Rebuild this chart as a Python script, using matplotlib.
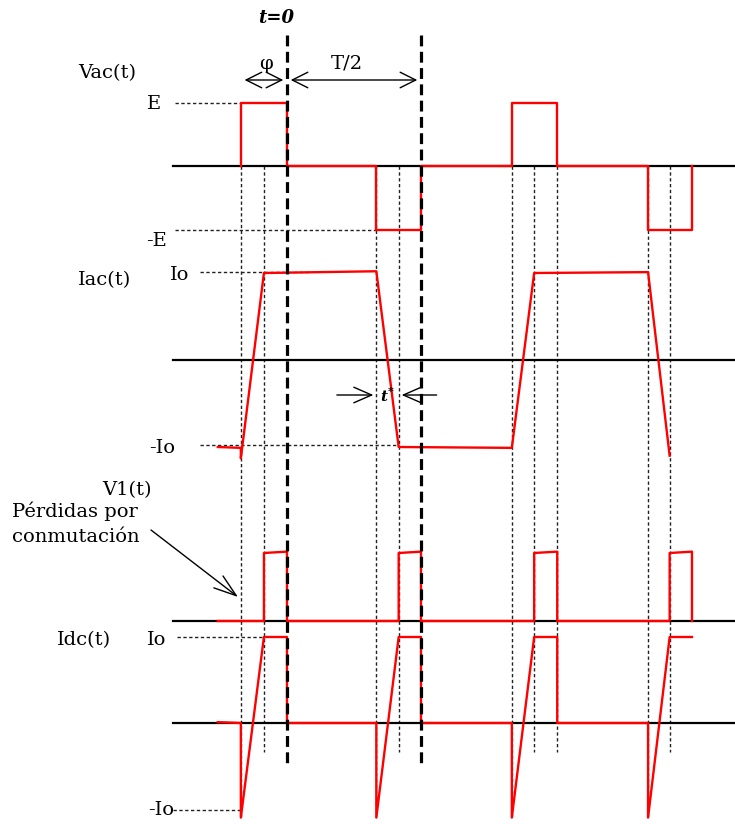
import numpy as np
import matplotlib.pyplot as plt

# angulo electrico en grados (t=0 -> flanco de bajada de Vac, T/2 = 180)
t_vac = [-62, -62, 0, 0, 120, 120, 180, 180, 302, 302, 363, 363, 485, 485, 544, 544]
vac = [0, 1, 1, 0, 0, -1, -1, 0, 0, 1, 1, 0, 0, -1, -1, 0]

t_iac = [-93, -62, -62, -31, 120, 150, 302, 332, 485, 514]
iac = [-1, -1.01, -1.13, 1, 1.02, -1, -1.01, 1, 1.01, -1.1]

t_v1 = [-93, -31, -31, 0, 0, 150, 150, 180, 180, 332, 332, 363, 363, 514, 514, 544, 544]
v1 = [0, 0, 1, 1.02, 0, 0, 1, 1.02, 0, 0, 1, 1.02, 0, 0, 1, 1.02, 0]

t_idc = [-93, -62, -62, -31, 0, 0, 120, 120, 150, 180, 180, 302, 302, 332, 363, 363, 485, 485, 514, 544]
idc = [0.01, 0, -1.1, 1, 1, 0, 0, -1.1, 1, 1, 0, 0, -1.1, 1, 1, 0, 0, -1.1, 1, 1]

t_conm = [-62, -31, 120, 150, 302, 332, 363, 485, 514]   # lineas finas
t_spike = [-62, 120, 302, 485]
t_ref = [0, 180]                                           # t=0 y T/2
phi = -62
tc = [120, 150]                                            # t*

W, H = 735, 824
fig = plt.figure(figsize=(W / 100, H / 100), dpi=100)
ax = fig.add_axes([0, 0, 1, 1])
k = 180 / 134
ax.set_xlim(-287 * k, (W - 287) * k)
ax.set_ylim(H, 0)
ax.axis('off')

rows = {'vac': (166, 63.5), 'iac': (360, 87), 'v1': (621, 68), 'idc': (723, 86)}


def yy(row, lvl):
    base, amp = rows[row]
    return base - np.asarray(lvl, dtype=float) * amp


def px(x, y):
    return x / W, 1 - y / H


red = '#ff0000'
thin = dict(color='#222222', lw=1.0, dashes=(2.4, 1.8))
x_left = (173 - 287) * k
x_right = (W - 287) * k

# ejes de cada señal
for r in rows:
    ax.plot([x_left, x_right], [rows[r][0]] * 2, color='black', lw=1.6, zorder=2)

# lineas verticales finas
for t in t_conm:
    ax.plot([t, t], [166, 818 if t in t_spike else 752], zorder=1, **thin)

# lineas de referencia horizontales
ax.plot([(175 - 287) * k, t_vac[0]], [yy('vac', 1)] * 2, zorder=1, **thin)
ax.plot([(175 - 287) * k, tc[0]], [yy('vac', -1)] * 2, zorder=1, **thin)
ax.plot([(200 - 287) * k, 30], [yy('iac', 1) - 1] * 2, zorder=1, **thin)
ax.plot([(200 - 287) * k, tc[1]], [yy('iac', -1) - 2] * 2, zorder=1, **thin)
ax.plot([(177 - 287) * k, -31], [yy('idc', 1)] * 2, zorder=1, **thin)
ax.plot([(173 - 287) * k, -62], [yy('idc', -1) + 1] * 2, zorder=1, **thin)

# formas de onda
ax.plot(t_vac, yy('vac', vac), color=red, lw=1.7, zorder=3)
ax.plot(t_iac, yy('iac', iac), color=red, lw=1.7, zorder=3)
ax.plot(t_v1, yy('v1', v1), color=red, lw=1.7, zorder=3)
ax.plot(t_idc, yy('idc', idc), color=red, lw=1.7, zorder=3)

# lineas gruesas t=0 y T/2
for t in t_ref:
    ax.plot([t, t], [35, 765], color='black', lw=2.3, dashes=(3.4, 1.7), zorder=4)

# flechas phi y T/2
arr = dict(arrowstyle='<->,head_length=0.7,head_width=0.35', color='black', lw=1.0,
           shrinkA=0, shrinkB=0, mutation_scale=16)
ax.annotate('', xy=(phi + 5, 80), xytext=(-5, 80), arrowprops=arr)
ax.annotate('', xy=(5, 80), xytext=(175, 80), arrowprops=arr)

# flechas t*
one = dict(arrowstyle='->,head_length=0.8,head_width=0.35', color='black', lw=1.0,
           shrinkA=0, shrinkB=0, mutation_scale=16)
ax.annotate('', xy=(tc[0] - 4, 395), xytext=(tc[0] - 53, 395), arrowprops=one)
ax.annotate('', xy=(tc[1] + 4, 395), xytext=(tc[1] + 51, 395), arrowprops=one)

# flecha perdidas por conmutacion
ax.annotate('', xy=px(238, 597), xytext=px(151, 530), xycoords='axes fraction',
            textcoords='axes fraction',
            arrowprops=dict(arrowstyle='->,head_length=0.9,head_width=0.3', color='black',
                            lw=1.0, shrinkA=0, shrinkB=0, mutation_scale=18))

fs = 14
txt = dict(transform=ax.transAxes, family='DejaVu Serif', fontsize=fs, va='center')
ax.text(*px(276, 18), 't=0', ha='center', weight='bold', style='italic',
        **{**txt, 'fontsize': 13})
ax.text(*px(266, 64), 'φ', ha='center', **txt)
ax.text(*px(347, 64), 'T/2', ha='center', **txt)
ax.text(*px(78, 73), 'Vac(t)', ha='left', **txt)
ax.text(*px(161, 104), 'E', ha='right', **txt)
ax.text(*px(167, 241), '-E', ha='right', **txt)
ax.text(*px(78, 280), 'Iac(t)', ha='left', **txt)
ax.text(*px(189, 275), 'Io', ha='right', **txt)
ax.text(*px(175, 448), '-Io', ha='right', **txt)
ax.text(*px(384, 397), 't', ha='center', weight='bold', style='italic',
        **{**txt, 'fontsize': 11})
ax.text(*px(391, 391), '*', ha='center', weight='bold', **{**txt, 'fontsize': 8})
ax.text(*px(102, 490), 'V1(t)', ha='left', **txt)
ax.text(*px(12, 511), 'Pérdidas por', ha='left', **txt)
ax.text(*px(12, 537), 'conmutación', ha='left', **txt)
ax.text(*px(57, 640), 'Idc(t)', ha='left', **txt)
ax.text(*px(166, 640), 'Io', ha='right', **txt)
ax.text(*px(174, 810), '-Io', ha='right', **txt)

fig.savefig('out.png', dpi=100)
